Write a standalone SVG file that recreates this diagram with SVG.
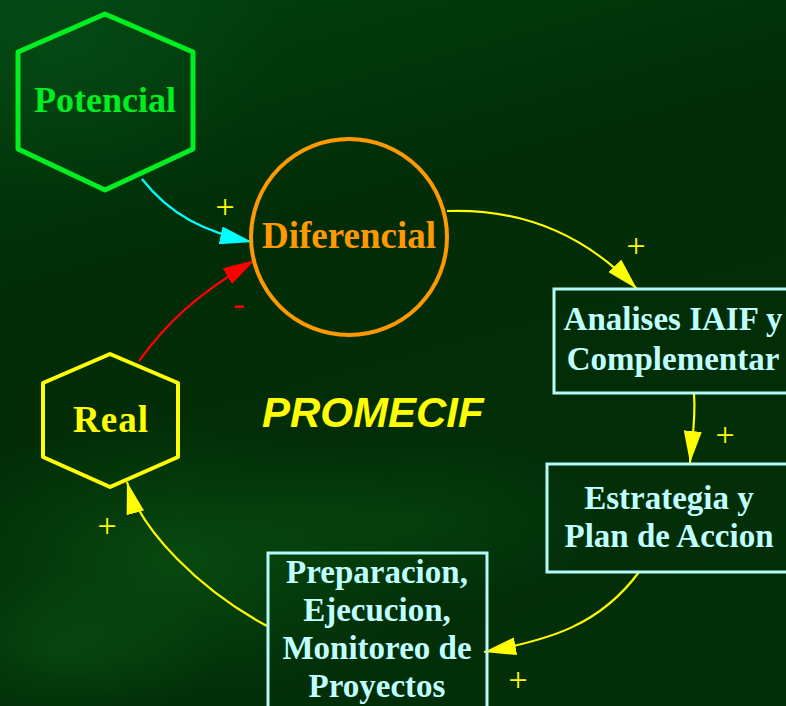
<svg xmlns="http://www.w3.org/2000/svg" width="786" height="706" viewBox="0 0 786 706">
  <defs>
    <linearGradient id="bg" x1="0" y1="0" x2="0.3" y2="1">
      <stop offset="0" stop-color="#024210"/>
      <stop offset="0.4" stop-color="#012c06"/>
      <stop offset="1" stop-color="#022e08"/>
    </linearGradient>
    <radialGradient id="blob" cx="0.5" cy="0.5" r="0.5">
      <stop offset="0" stop-color="#0f6a1a" stop-opacity="0.45"/>
      <stop offset="1" stop-color="#0f6a1a" stop-opacity="0"/>
    </radialGradient>
    <radialGradient id="tl" cx="0.5" cy="0.5" r="0.5">
      <stop offset="0" stop-color="#055018" stop-opacity="0.6"/>
      <stop offset="1" stop-color="#055018" stop-opacity="0"/>
    </radialGradient>
    <marker id="ahY" viewBox="0 0 32 18" refX="32" refY="9" markerWidth="32" markerHeight="18" markerUnits="userSpaceOnUse" orient="auto">
      <path d="M0,0 L32,9 L0,18 z" fill="#FFFF00"/>
    </marker>
    <marker id="ahC" viewBox="0 0 32 18" refX="32" refY="9" markerWidth="32" markerHeight="18" markerUnits="userSpaceOnUse" orient="auto">
      <path d="M0,0 L32,9 L0,18 z" fill="#00FFFF"/>
    </marker>
    <marker id="ahR" viewBox="0 0 32 18" refX="32" refY="9" markerWidth="32" markerHeight="18" markerUnits="userSpaceOnUse" orient="auto">
      <path d="M0,0 L32,9 L0,18 z" fill="#FF0000"/>
    </marker>
  </defs>
  <style>
    .lbl { font-family: "Liberation Serif", "Times New Roman", serif; font-weight: bold; text-anchor: middle; }
    .box rect { fill: none; stroke: #B4FAFA; stroke-width: 3; }
    .box text { fill: #C0FFFF; font-size: 33px; }
    .conn path { fill: none; stroke-width: 2.2; }
    .sign { font-family: "Liberation Serif", "Times New Roman", serif; font-size: 34px; text-anchor: middle; }
  </style>

  <rect width="786" height="706" fill="url(#bg)"/>
  <ellipse cx="60" cy="40" rx="220" ry="160" fill="url(#tl)"/>
  <ellipse cx="180" cy="560" rx="260" ry="140" fill="url(#blob)"/>
  <ellipse cx="420" cy="520" rx="200" ry="90" fill="url(#blob)" opacity="0.6"/>
  <ellipse cx="60" cy="650" rx="160" ry="80" fill="url(#blob)" opacity="0.7"/>

  <g id="connectors" class="conn">
    <path d="M142,179 C170,215 205,232 252,242" stroke="#00FFFF" marker-end="url(#ahC)"/>
    <path d="M139,361 C165,325 195,295 255,260" stroke="#FF0000" marker-end="url(#ahR)"/>
    <path d="M447,211 C530,208 590,240 637,289" stroke="#FFFF00" marker-end="url(#ahY)"/>
    <path d="M694,393 C696,420 692,440 690,463" stroke="#FFFF00" marker-end="url(#ahY)"/>
    <path d="M639,572 C600,625 550,640 484,652" stroke="#FFFF00" marker-end="url(#ahY)"/>
    <path d="M267,626 C200,590 140,530 127,482" stroke="#FFFF00" marker-end="url(#ahY)"/>
    <text class="sign" x="225" y="218" fill="#FFFF00">+</text>
    <text class="sign" x="239" y="315" fill="#FF0000">-</text>
    <text class="sign" x="636" y="257" fill="#FFFF00">+</text>
    <text class="sign" x="725" y="446" fill="#FFFF00">+</text>
    <text class="sign" x="518" y="691" fill="#FFFF00">+</text>
    <text class="sign" x="107" y="537" fill="#FFFF00">+</text>
  </g>

  <g id="potencial">
    <polygon points="105,14 193,52 193,149 105,190 18,149 18,52" fill="none" stroke="#00EE22" stroke-width="5" stroke-linejoin="round"/>
    <text class="lbl" x="105" y="112" font-size="36" fill="#00EE22">Potencial</text>
  </g>

  <g id="diferencial">
    <circle cx="349" cy="237" r="98" fill="none" stroke="#FF9900" stroke-width="4"/>
    <text class="lbl" x="349" y="248" font-size="37" fill="#FF9900">Diferencial</text>
  </g>

  <g id="real">
    <polygon points="110,354 178,383 178,457 110,487 43,457 43,383" fill="none" stroke="#FFFF00" stroke-width="4" stroke-linejoin="round"/>
    <text class="lbl" x="111" y="432" font-size="37" fill="#FFFF00" letter-spacing="1">Real</text>
  </g>

  <g id="analises" class="box">
    <rect x="554" y="289" width="244" height="104"/>
    <text class="lbl" x="673" y="330">Analises IAIF y</text>
    <text class="lbl" x="673" y="370">Complementar</text>
  </g>

  <g id="estrategia" class="box">
    <rect x="547" y="464" width="244" height="108"/>
    <text class="lbl" x="669" y="509">Estrategia y</text>
    <text class="lbl" x="669" y="547">Plan de Accion</text>
  </g>

  <g id="preparacion" class="box">
    <rect x="268" y="553" width="219" height="170"/>
    <text class="lbl" x="377" y="583">Preparacion,</text>
    <text class="lbl" x="377" y="621">Ejecucion,</text>
    <text class="lbl" x="377" y="659">Monitoreo de</text>
    <text class="lbl" x="377" y="697">Proyectos</text>
  </g>

  <g id="promecif">
    <text x="262" y="427" font-family="'Liberation Sans', Arial, sans-serif" font-weight="bold" font-style="italic" font-size="42" fill="#FFFF00">PROMECIF</text>
  </g>
</svg>
